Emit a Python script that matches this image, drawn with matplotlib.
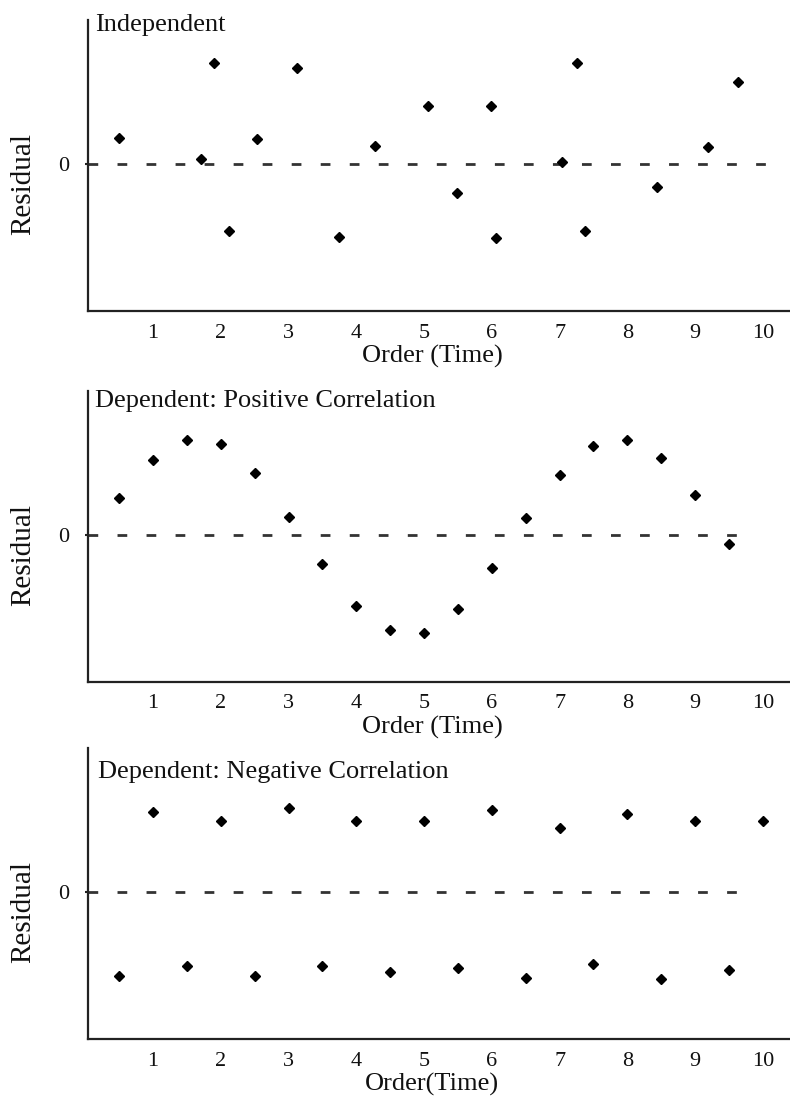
import matplotlib.pyplot as plt

plt.rcParams['font.family'] = ['Liberation Serif', 'DejaVu Serif']
plt.rcParams['lines.scale_dashes'] = False

W, H = 790, 1103

# datos
ticks = [1, 2, 3, 4, 5, 6, 7, 8, 9, 10]

ind_x = [0.50, 1.71, 1.90, 2.12, 2.54, 3.13, 3.74, 4.28, 5.06, 5.49,
         5.99, 6.06, 7.03, 7.26, 7.38, 8.44, 9.19, 9.63]
ind_y = [0.52, 0.10, 2.02, -1.34, 0.50, 1.92, -1.46, 0.36, 1.16, -0.58,
         1.16, -1.48, 0.04, 2.02, -1.34, -0.46, 0.34, 1.64]

pos_x = [0.5, 1.0, 1.5, 2.0, 2.5, 3.0, 3.5, 4.0, 4.5, 5.0,
         5.5, 6.0, 6.5, 7.0, 7.5, 8.0, 8.5, 9.0, 9.5]
pos_y = [0.74, 1.50, 1.90, 1.82, 1.24, 0.36, -0.58, -1.42, -1.90, -1.96,
         -1.48, -0.66, 0.34, 1.20, 1.78, 1.90, 1.54, 0.80, -0.18]

neg_x = [0.5, 1.0, 1.5, 2.0, 2.5, 3.0, 3.5, 4.0, 4.5, 5.0,
         5.5, 6.0, 6.5, 7.0, 7.5, 8.0, 8.5, 9.0, 9.5, 10.0]
neg_y = [-1.68, 1.60, -1.48, 1.42, -1.68, 1.68, -1.48, 1.42, -1.60, 1.42,
         -1.52, 1.64, -1.72, 1.28, -1.44, 1.56, -1.74, 1.42, -1.56, 1.42]

paneles = [
    # x, y, titulo, xlabel, fondo(px), fin linea cero, x titulo, y titulo
    (ind_x, ind_y, 'Independent', 'Order (Time)', 311, 10.16, 0.010, 0.962),
    (pos_x, pos_y, 'Dependent: Positive Correlation', 'Order (Time)', 682, 9.82, 0.010, 0.945),
    (neg_x, neg_y, 'Dependent: Negative Correlation', 'Order(Time)', 1039, 9.82, 0.014, 0.897),
]

fig = plt.figure(figsize=(W / 100, H / 100), dpi=100)

left_px = 88
alto_px = 291
for xs, ys, titulo, xlab, fondo, fin, tx, ty in paneles:
    ax = fig.add_axes([left_px / W, 1 - fondo / H, 1 - left_px / W, alto_px / H])
    ax.set_xlim(0.04, 10.4)
    ax.set_ylim(-2.94, 2.88)

    # linea de cero punteada
    ax.plot([0.04, fin], [0, 0], color='#333333', lw=2.0,
            linestyle=(0, (7.0, 13.9)), zorder=1)
    ax.plot(xs, ys, linestyle='none', marker='D', ms=5.2, color='black', zorder=3)

    for lado in ['top', 'right']:
        ax.spines[lado].set_visible(False)
    for lado in ['left', 'bottom']:
        ax.spines[lado].set_color('#222222')
        ax.spines[lado].set_linewidth(1.6)

    ax.set_xticks(ticks)
    ax.set_xticklabels([str(t) for t in ticks])
    ax.tick_params(axis='x', length=0, pad=9, labelsize=16, labelcolor='#111111')
    ax.set_yticks([0])
    ax.set_yticklabels(['0'])
    ax.tick_params(axis='y', length=2.2, width=1.5, color='#222222', pad=11,
                   labelsize=16, labelcolor='#111111')

    ax.set_xlabel(xlab, fontsize=19, color='#111111', va='center')
    ax.xaxis.set_label_coords(0.49, -0.155)
    ax.set_ylabel('Residual', fontsize=21, color='#111111', va='center')
    ax.yaxis.set_label_coords(-0.093, 0.435)

    ax.text(tx, ty, titulo, transform=ax.transAxes, fontsize=19,
            color='#111111', ha='left', va='baseline')

fig.savefig('out.png', dpi=100)
